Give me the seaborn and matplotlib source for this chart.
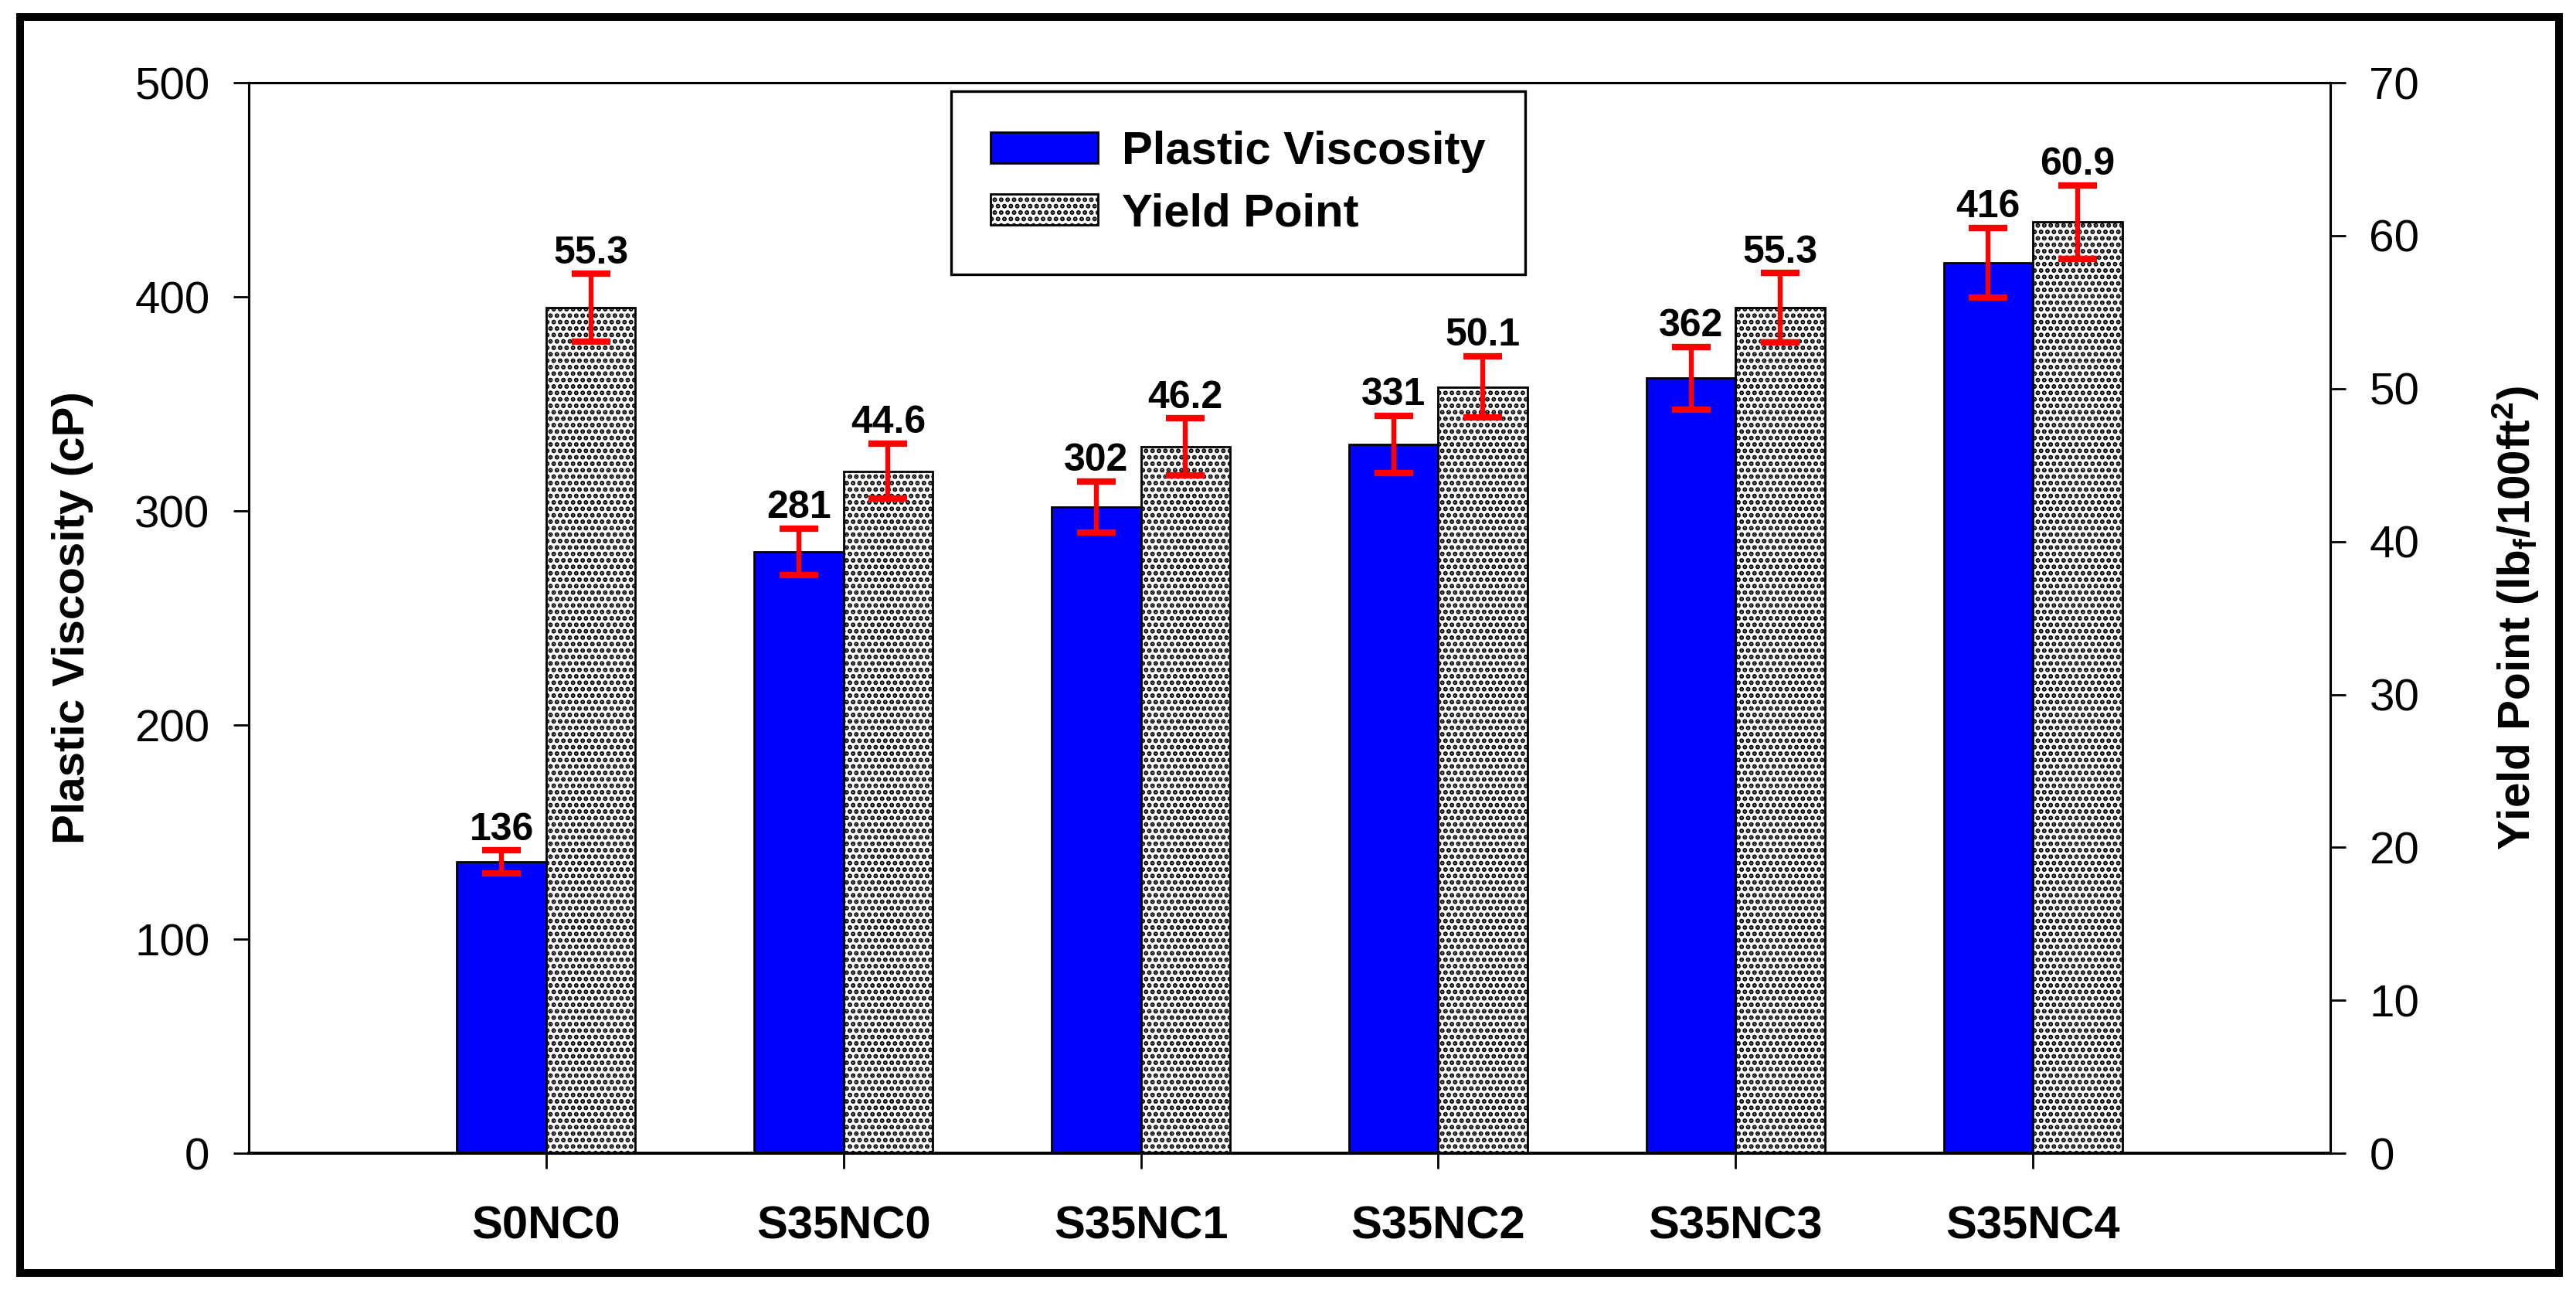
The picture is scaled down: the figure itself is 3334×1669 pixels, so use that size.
import matplotlib
matplotlib.use('Agg')
import matplotlib.pyplot as plt
from matplotlib.patches import Patch, Rectangle
import pandas as pd
import seaborn as sns

categories = ['S0NC0', 'S35NC0', 'S35NC1', 'S35NC2', 'S35NC3', 'S35NC4']
series = ['Plastic Viscosity', 'Yield Point']
plastic_viscosity = [136, 281, 302, 331, 362, 416]
pv_error = [5.4, 10.8, 11.9, 13.4, 14.5, 16.2]
yield_point = [55.3, 44.6, 46.2, 50.1, 55.3, 60.9]
yp_error = [2.2, 1.8, 1.85, 2.0, 2.25, 2.4]
pv_ticks = [0, 100, 200, 300, 400, 500]
yp_ticks = [0, 10, 20, 30, 40, 50, 60, 70]

colors = {'Plastic Viscosity': '#0000ff', 'Yield Point': 'white'}
HATCH = '....'


def bar_centres(ax):
    # the seaborn bars of one series, left to right
    for cont in ax.containers:
        if len(cont) == len(categories):
            bars = sorted(cont, key=lambda b: b.get_x())
            return [b.get_x() + b.get_width() / 2 for b in bars]
    return []


def main():
    sns.set_style('ticks', {'axes.edgecolor': 'black', 'xtick.color': 'black',
                            'ytick.color': 'black', 'text.color': 'black',
                            'axes.labelcolor': 'black'})
    plt.rcParams['font.family'] = ['Liberation Sans', 'DejaVu Sans']
    plt.rcParams['hatch.linewidth'] = 1.5
    plt.rcParams['mathtext.default'] = 'regular'

    pv_df = pd.DataFrame({'mix': categories, 'value': plastic_viscosity, 'series': series[0]})
    yp_df = pd.DataFrame({'mix': categories, 'value': yield_point, 'series': series[1]})

    fig = plt.figure(figsize=(16.67, 8.345), dpi=200)
    ax = fig.add_axes([0.0966, 0.1060, 0.8080, 0.8298])
    ax2 = ax.twinx()

    # left axis: plastic viscosity
    sns.barplot(data=pv_df, x='mix', y='value', hue='series', hue_order=series,
                order=categories, palette=colors, width=0.6, dodge=True, saturation=1,
                edgecolor='black', linewidth=1.0, errorbar=None, legend=False, ax=ax)
    # right axis: yield point
    sns.barplot(data=yp_df, x='mix', y='value', hue='series', hue_order=series,
                order=categories, palette=colors, width=0.6, dodge=True, saturation=1,
                edgecolor='black', linewidth=1.0, errorbar=None, legend=False, ax=ax2)
    for bar in ax2.patches:
        bar.set_hatch(HATCH)

    pv_x = bar_centres(ax)
    yp_x = bar_centres(ax2)

    ax.errorbar(pv_x, plastic_viscosity, yerr=pv_error, fmt='none', ecolor='red',
                elinewidth=2.3, capsize=9, capthick=3.0, zorder=5)
    ax2.errorbar(yp_x, yield_point, yerr=yp_error, fmt='none', ecolor='red',
                 elinewidth=2.3, capsize=9, capthick=3.0, zorder=5)

    for x, v, e in zip(pv_x, plastic_viscosity, pv_error):
        ax.annotate(f'{v}', (x, v + e), xytext=(0, 5), textcoords='offset points',
                    ha='center', va='baseline', fontsize=18, fontweight='bold')
    for x, v, e in zip(yp_x, yield_point, yp_error):
        ax2.annotate(f'{v:.1f}', (x, v + e), xytext=(0, 5), textcoords='offset points',
                     ha='center', va='baseline', fontsize=18, fontweight='bold')

    ax.set_xlim(-1, 6)
    ax.set_ylim(0, 500)
    ax2.set_ylim(0, 70)
    ax.set_yticks(pv_ticks)
    ax2.set_yticks(yp_ticks)
    ax.set_xticks(range(len(categories)), categories)
    for lbl in ax.get_xticklabels():
        lbl.set_fontweight('bold')

    ax.set_xlabel('')
    ax2.set_xlabel('')
    ax.set_ylabel('Plastic Viscosity (cP)', fontsize=21, fontweight='bold', labelpad=19)
    ax2.set_ylabel(r'Yield Point (lb$_\mathregular{f}$/100ft$^\mathregular{2}$)',
                   fontsize=21, fontweight='bold', labelpad=33)

    ax.tick_params(axis='x', direction='out', length=7.2, width=1.0, pad=17, labelsize=21.5)
    ax.tick_params(axis='y', direction='out', length=7.2, width=1.0, pad=11, labelsize=21)
    ax2.tick_params(axis='y', direction='out', length=7.2, width=1.0, pad=11, labelsize=21)

    for a in (ax, ax2):
        for side, sp in a.spines.items():
            sp.set_visible(True)
            sp.set_color('black')
            sp.set_linewidth(1.1)
        a.spines['bottom'].set_linewidth(1.3)

    handles = [Patch(facecolor=colors[series[0]], edgecolor='black', linewidth=1.0),
               Patch(facecolor=colors[series[1]], edgecolor='black', linewidth=1.0, hatch=HATCH)]
    leg = ax2.legend(handles, series, loc='upper left', bbox_to_anchor=(0.3375, 0.992),
                     borderaxespad=0, frameon=True, fancybox=False, framealpha=1,
                     edgecolor='black', prop={'size': 21.5, 'weight': 'bold'},
                     handlelength=2.33, handleheight=0.67, handletextpad=0.52,
                     labelspacing=0.42, borderpad=0.85)
    leg.get_frame().set_linewidth(1.2)

    # outer frame round the whole figure
    fig.add_artist(Rectangle((0.0078, 0.0132), 0.9857, 0.9737, transform=fig.transFigure,
                             fill=False, edgecolor='black', linewidth=3.6))

    fig.savefig('out.png', dpi=200)


if __name__ == '__main__':
    main()
